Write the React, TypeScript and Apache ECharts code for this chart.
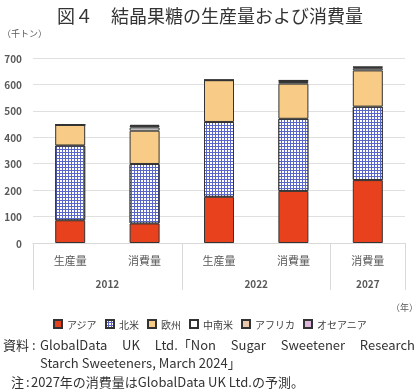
import React, { useEffect, useRef } from "react";
import * as echarts from "echarts";

const categories = ["生産量", "消費量", "生産量", "消費量", "消費量"];
const yearLabels = ["2012", "2022", "2027"];
const yearSpans = [2, 2, 1];
const seriesNames = ["アジア", "北米", "欧州", "中南米", "アフリカ", "オセアニア"];
const asia = [86, 74, 175, 197, 238];
const northAmerica = [283, 225, 283, 273, 278];
const europe = [78, 126, 158, 133, 137];
const latinAmerica = [0, 12, 0, 6, 8];
const africa = [0, 6, 0, 5, 4];
const oceania = [0, 4, 0, 2, 2];
const yTicks = { min: 0, max: 700, interval: 100 };
const sourceLine1 = "GlobalData UK Ltd.「Non Sugar Sweetener Research";
const sourceLine2 = "Starch Sweeteners, March 2024」";
const noteLine = "2027年の消費量はGlobalData UK Ltd.の予測。";

const FONT = '"Noto Sans CJK JP", "Noto Sans", sans-serif';
const NOTE_FONT = '"Noto Sans CJK JP", "Noto Sans", sans-serif';

export default function App() {
  const ref = useRef<HTMLDivElement>(null);
  useEffect(() => {
    if (!ref.current) return;
    const chart = echarts.init(ref.current, null, { renderer: "svg" });

    const yearPos: { pos: number; label: string }[] = [];
    const groupStarts: number[] = [];
    let start = 0;
    yearSpans.forEach((s, i) => {
      groupStarts.push(start);
      yearPos.push({ pos: start + s / 2, label: yearLabels[i] });
      start += s;
    });

    const border = { borderColor: "#333", borderWidth: 1 };
    const values = [asia, northAmerica, europe, latinAmerica, africa, oceania];
    const styles: any[] = [
      { color: "#E8411D", ...border },
      {
        color: "#5A66CA",
        ...border,
        decal: {
          symbol: "rect",
          symbolSize: 1,
          color: "#FFFFFF",
          dashArrayX: [2, 1],
          dashArrayY: [2, 1],
          rotation: 0,
        },
      },
      { color: "#F8CC86", ...border },
      { color: "#FFFFFF", ...border },
      { color: "#E9C9AE", ...border },
      { color: "#DDB6DE", ...border },
    ];

    const series = seriesNames.map((name, i) => ({
      name,
      type: "bar",
      stack: "total",
      xAxisIndex: 0,
      barWidth: 30,
      data: values[i],
      itemStyle: styles[i],
    }));

    const noteSize = 13;
    const ctx = document.createElement("canvas").getContext("2d")!;
    ctx.font = `${noteSize}px ${NOTE_FONT}`;
    const words = sourceLine1.split(" ");
    const widths = words.map((w) => ctx.measureText(w).width);
    const lineStart = 40;
    const lineEnd = 415;
    const total = widths.reduce((a, b) => a + b, 0);
    const gap = (lineEnd - lineStart - total) / (words.length - 1);

    const noteText = (text: string, x: number, y: number) => ({
      type: "text",
      x,
      y,
      style: { text, fontSize: noteSize, lineHeight: 15, fill: "#333", fontFamily: NOTE_FONT, verticalAlign: "middle" },
    });

    const justified: any[] = [];
    let cx = lineStart;
    words.forEach((w, i) => {
      justified.push(noteText(w, cx, 344));
      cx += widths[i] + gap;
    });

    chart.setOption({
      animation: false,
      textStyle: { fontFamily: FONT },
      title: {
        text: "図４　結晶果糖の生産量および消費量",
        left: "center",
        top: 1,
        textStyle: { fontSize: 18, fontWeight: "normal", color: "#333", fontFamily: FONT },
      },
      legend: {
        data: seriesNames,
        top: 314,
        left: "center",
        itemWidth: 8,
        itemHeight: 8,
        itemGap: 8,
        icon: "rect",
        textStyle: { fontSize: 10, color: "#404040", fontFamily: FONT },
      },
      grid: { left: 33, right: 15, top: 58, bottom: 148, containLabel: false },
      xAxis: [
        {
          type: "category",
          data: categories,
          position: "bottom",
          axisLine: { show: true, lineStyle: { color: "#d9d9d9", width: 1 } },
          axisTick: {
            show: true,
            length: 47,
            interval: (i: number) => groupStarts.includes(i),
            lineStyle: { color: "#d9d9d9", width: 1 },
          },
          axisLabel: { fontSize: 11, color: "#595959", margin: 11, fontFamily: FONT },
        },
        {
          type: "value",
          position: "bottom",
          min: 0,
          max: categories.length,
          interval: 0.5,
          axisLine: { show: false },
          axisTick: { show: false },
          splitLine: { show: false },
          axisLabel: {
            margin: 35,
            fontSize: 10,
            fontWeight: "bold",
            color: "#595959",
            fontFamily: FONT,
            formatter: (v: number) => {
              const f = yearPos.find((p) => Math.abs(p.pos - v) < 1e-6);
              return f ? f.label : "";
            },
          },
        },
      ],
      yAxis: {
        type: "value",
        min: yTicks.min,
        max: yTicks.max,
        interval: yTicks.interval,
        axisLine: { show: false },
        axisTick: { show: false },
        splitLine: { lineStyle: { color: "#e0e0e0", width: 1 } },
        axisLabel: { fontSize: 10, color: "#595959", margin: 11, fontWeight: "bold", fontFamily: FONT },
      },
      series,
      graphic: [
        { type: "text", x: 2, y: 33, style: { text: "（千トン）", fontSize: 9, fill: "#595959", fontFamily: FONT, verticalAlign: "middle" } },
        { type: "text", x: 418, y: 307, style: { text: "（年）", fontSize: 9, fill: "#595959", fontFamily: FONT, align: "right", verticalAlign: "middle" } },
        noteText("資料", 3, 344),
        noteText(":", 32, 344),
        ...justified,
        noteText(sourceLine2, 40, 362),
        noteText("注", 11, 381),
        noteText(":", 26, 381),
        noteText(noteLine, 31, 381),
      ],
    });
    return () => chart.dispose();
  }, []);
  return <div ref={ref} style={{ position: "fixed", left: 0, top: 0, width: 420, height: 391 }} />;
}
